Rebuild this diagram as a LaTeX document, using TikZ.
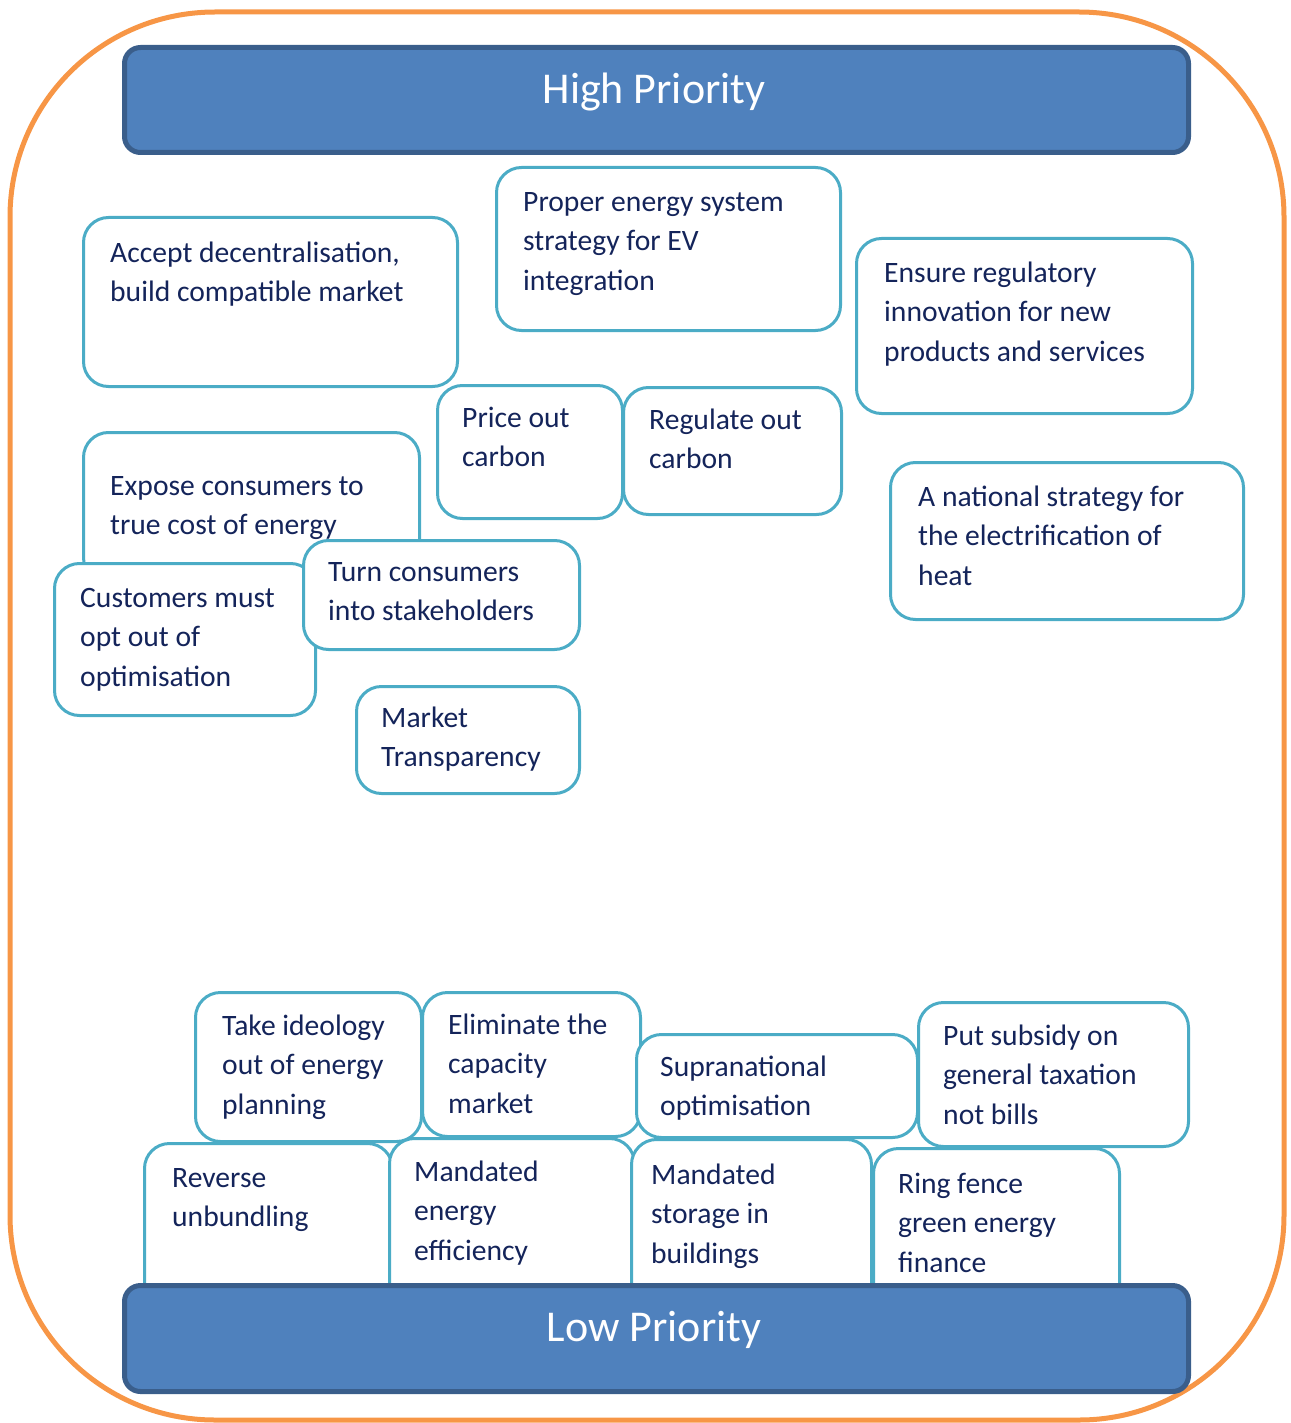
\documentclass[tikz,border=0pt]{standalone}
\usepackage{fontspec}
\setmainfont{Carlito}
\definecolor{frameorange}{HTML}{F79646}
\definecolor{baredge}{HTML}{3A5E8B}
\definecolor{barfill}{HTML}{4F81BD}
\definecolor{ideaedge}{HTML}{4BACC6}
\definecolor{ideaink}{HTML}{14245A}
\tikzset{
  frame/.style={draw=frameorange, line width=5pt, rounded corners=205pt},
  bar/.style={draw=baredge, fill=barfill, line width=5pt, rounded corners=16pt,
    rectangle, inner sep=0pt, anchor=north west},
  barlabel/.style={text=white, font=\fontsize{44}{52}\selectfont, inner sep=0pt, anchor=base},
  idea/.style={draw=ideaedge, fill=white, line width=3pt, rounded corners=25pt,
    rectangle, inner sep=0pt, anchor=north west},
  ideatext/.style={text=ideaink, font=\fontsize{29.6}{39.5}\selectfont, align=left,
    inner sep=0pt, anchor=north west, yshift=27.65pt},
}
% #1 name, #2/#3 top-left corner, #4/#5 width/height, #6/#7 first baseline start, #8 text
\newcommand{\ideabox}[8]{%
  \node[idea, minimum width=#4pt, minimum height=#5pt] (#1) at (#2,#3) {};
  \node[ideatext] (#1-t) at (#6,#7) {\strut #8};
}
\begin{document}
\begin{tikzpicture}[x=1pt, y=-1pt]
\useasboundingbox (0,0) rectangle (1290,1423);
% orange frame
\draw[frame] (10,12) rectangle (1284,1420);

% high priority group
\ideabox{accept}{82}{216}{374}{169}{110}{262}{Accept decentralisation,\\build compatible market}
\ideabox{ev}{495}{166}{344}{163}{523}{211}{Proper energy system\\strategy for EV\\integration}
\ideabox{innov}{855}{237}{336}{175}{884}{282}{Ensure regulatory\\innovation for new\\products and services}
\ideabox{price}{436}{384}{185}{133}{462}{427}{Price out\\carbon}
\ideabox{regulate}{622}{386}{218}{127}{649}{429}{Regulate out\\carbon}
\ideabox{heat}{889}{461}{353}{157}{918}{506}{A national strategy for\\the electrification of\\heat}
\ideabox{expose}{82}{431}{336}{150}{110}{495}{Expose consumers to\\true cost of energy}
\ideabox{optout}{53}{562}{261}{152}{80}{607}{Customers must\\opt out of\\optimisation}
\ideabox{stake}{302}{539}{276}{109}{328}{581}{Turn consumers\\into stakeholders}
\ideabox{transp}{355}{685}{223}{107}{381}{727}{Market\\Transparency}

% low priority group, upper row
\ideabox{ideology}{194}{991}{226}{149}{222}{1035}{Take ideology\\out of energy\\planning}
\ideabox{capacity}{421}{991}{218}{144}{448}{1034}{Eliminate the\\capacity\\market}
\ideabox{supra}{635}{1033}{281}{103}{660}{1076}{Supranational\\optimisation}
\ideabox{subsidy}{917}{1001}{270}{144}{943}{1045}{Put subsidy on\\general taxation\\not bills}
% low priority group, lower row
\ideabox{unbundle}{143}{1142}{248}{190}{172}{1187}{Reverse\\unbundling}
\ideabox{efficiency}{388}{1137}{245}{195}{414}{1181}{Mandated\\energy\\efficiency}
\ideabox{storage}{630}{1138}{240}{195}{651}{1184}{Mandated\\storage in\\buildings}
\ideabox{ringfence}{872}{1147}{246}{185}{898}{1193}{Ring fence\\green energy\\finance}

% priority bars
\node[bar, minimum width=1064pt, minimum height=105pt] (high) at (122,45) {};
\node[barlabel] (high-t) at (654,104) {High Priority};
\node[bar, minimum width=1064pt, minimum height=106pt] (low) at (122,1283) {};
\node[barlabel] (low-t) at (654,1341) {Low Priority};
\end{tikzpicture}
\end{document}
